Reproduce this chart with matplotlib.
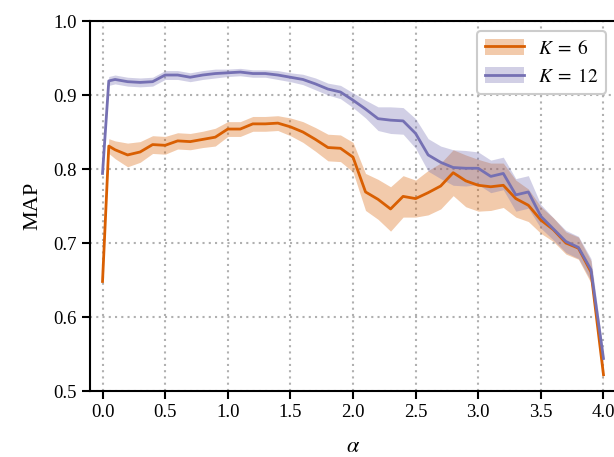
import numpy as np
import matplotlib
matplotlib.use("Agg")
import matplotlib.pyplot as plt
from matplotlib.patches import Patch
from matplotlib.lines import Line2D

plt.rcParams['font.family'] = ['Liberation Serif', 'DejaVu Serif']
plt.rcParams['mathtext.fontset'] = 'stix'

alpha = [0.0, 0.05, 0.1, 0.2, 0.3, 0.4, 0.5, 0.6, 0.7, 0.8, 0.9, 1.0,
         1.1, 1.2, 1.3, 1.4, 1.5, 1.6, 1.7, 1.8, 1.9, 2.0,
         2.1, 2.2, 2.3, 2.4, 2.5, 2.6, 2.7, 2.8, 2.9, 3.0,
         3.1, 3.2, 3.3, 3.4, 3.5, 3.6, 3.7, 3.8, 3.9, 4.0]

map_k6 = [0.648, 0.831, 0.826, 0.819, 0.823, 0.833, 0.832, 0.838, 0.837, 0.840, 0.843, 0.854,
          0.854, 0.861, 0.861, 0.862, 0.857, 0.850, 0.840, 0.829, 0.828, 0.816,
          0.769, 0.759, 0.746, 0.763, 0.760, 0.768, 0.777, 0.795, 0.784, 0.778,
          0.776, 0.778, 0.760, 0.751, 0.731, 0.718, 0.700, 0.693, 0.661, 0.522]
std_k6 = [0.004, 0.010, 0.012, 0.016, 0.014, 0.012, 0.012, 0.011, 0.011, 0.011, 0.012, 0.010,
          0.010, 0.010, 0.010, 0.010, 0.012, 0.014, 0.016, 0.018, 0.018, 0.020,
          0.025, 0.027, 0.030, 0.028, 0.025, 0.030, 0.031, 0.031, 0.035, 0.035,
          0.032, 0.030, 0.025, 0.022, 0.018, 0.016, 0.015, 0.015, 0.015, 0.008]

map_k12 = [0.794, 0.919, 0.921, 0.918, 0.917, 0.918, 0.927, 0.927, 0.924, 0.927, 0.929, 0.930,
           0.931, 0.929, 0.929, 0.927, 0.924, 0.921, 0.915, 0.908, 0.904, 0.893,
           0.881, 0.868, 0.866, 0.865, 0.848, 0.819, 0.809, 0.802, 0.801, 0.801,
           0.790, 0.794, 0.765, 0.769, 0.736, 0.719, 0.702, 0.694, 0.664, 0.544]
std_k12 = [0.003, 0.006, 0.006, 0.006, 0.006, 0.006, 0.006, 0.006, 0.006, 0.006, 0.006, 0.005,
           0.005, 0.005, 0.005, 0.006, 0.006, 0.007, 0.008, 0.008, 0.009, 0.010,
           0.012, 0.016, 0.018, 0.018, 0.020, 0.022, 0.022, 0.024, 0.024, 0.022,
           0.022, 0.022, 0.022, 0.022, 0.016, 0.015, 0.015, 0.015, 0.015, 0.008]

labels = [r'$K\;=\;6$', r'$K\;=\;12$']
colors = ['#d95f02', '#7570b3']

fig = plt.figure(figsize=(6.14, 4.57), dpi=100)
ax = fig.add_axes([90/614, 66/457, 526/614, 370/457])

series = [(map_k6, std_k6), (map_k12, std_k12)]
x = np.array(alpha)
handles = []
for (m, s), lab, c in zip(series, labels, colors):
    m = np.array(m); s = np.array(s)
    ax.fill_between(x, m - s, m + s, color=c, alpha=0.33, linewidth=0)
    ax.plot(x, m, color=c, lw=2.0)
    handles.append((Patch(facecolor=c, alpha=0.33, edgecolor='none'), Line2D([], [], color=c, lw=2.0)))

ax.set_xlim(-0.1, 4.1)
ax.set_ylim(0.5, 1.0)
ax.set_xticks([0.0, 0.5, 1.0, 1.5, 2.0, 2.5, 3.0, 3.5, 4.0])
ax.set_yticks([0.5, 0.6, 0.7, 0.8, 0.9, 1.0])
ax.grid(True, linestyle=(0, (1, 2)), color='#b0b0b0', linewidth=1.5)
ax.set_axisbelow(True)
for sp in ax.spines.values():
    sp.set_linewidth(1.5)
ax.spines['right'].set_visible(False)
ax.tick_params(axis='both', labelsize=13.5, width=1.5, length=6, color='black')
ax.set_xlabel(r'$\alpha$', fontsize=16, labelpad=12)
ax.set_ylabel('MAP', fontsize=16, labelpad=8)

leg = ax.legend(handles, labels, loc='upper right', bbox_to_anchor=(1.0, 1.0),
                fontsize=14, frameon=True, fancybox=True, edgecolor='#cccccc',
                framealpha=1.0, handlelength=2.0, handleheight=0.9, labelspacing=0.5,
                handletextpad=0.7)
leg.get_frame().set_linewidth(1.5)

fig.savefig('out.png', dpi=100)
